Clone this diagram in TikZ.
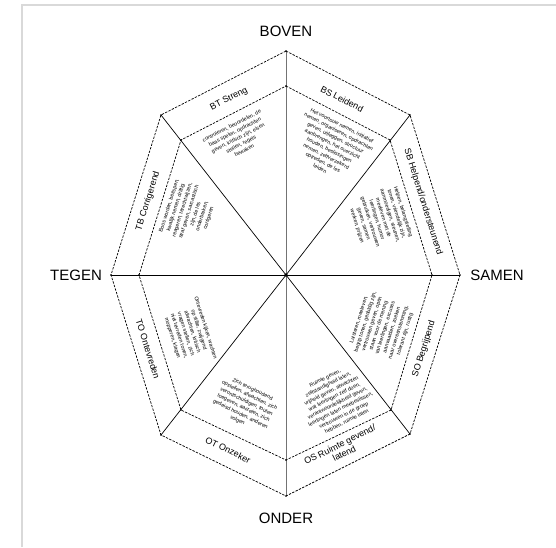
\documentclass[tikz,border=0pt]{standalone}
\usepackage{fontspec}
\setmainfont{Liberation Sans}
\begin{document}
\begin{tikzpicture}[x=1pt,y=-1pt,
  edge/.style={line width=0.7pt, dash pattern=on 2.4pt off 1.3pt},
  spoke/.style={line width=0.7pt},
  mainspoke/.style={line width=1pt, black!55},
  cardinal/.style={font=\fontsize{15}{17}\selectfont, inner sep=0pt},
  band/.style={font=\fontsize{9}{10}\selectfont, inner sep=0pt, align=center},
  body/.style={font=\fontsize{5.3}{6.9}\selectfont, inner sep=0pt, align=center},
  vdot/.style={fill=black, circle, inner sep=0pt, minimum size=1.8pt},
]
\useasboundingbox (0,0) rectangle (556,547);
\draw[black!15, line width=1.2pt] (22,547) -- (22,5) -- (556,5);

% centre and vertices
\coordinate (c) at (286,275);
\coordinate (oN) at (286,51);  \coordinate (oNE) at (410,115);
\coordinate (oE) at (460,275); \coordinate (oSE) at (410,434);
\coordinate (oS) at (286,496); \coordinate (oSW) at (161,435);
\coordinate (oW) at (111,275); \coordinate (oNW) at (161,115);
\coordinate (iN) at (286,86);  \coordinate (iNE) at (390,140);
\coordinate (iE) at (432,275); \coordinate (iSE) at (391,410);
\coordinate (iS) at (286,460); \coordinate (iSW) at (181,410);
\coordinate (iW) at (139,275); \coordinate (iNW) at (181,140);

% spokes
\draw[mainspoke] (oN) -- (oS);
\draw[spoke] (oW) -- (oE);
\draw[spoke] (c) -- (oNE);
\draw[spoke] (c) -- (oSE);
\draw[spoke] (c) -- (oSW);
\draw[spoke] (c) -- (oNW);

% octagons
\draw[edge] (oN) -- (oNE) -- (oE) -- (oSE) -- (oS) -- (oSW) -- (oW) -- (oNW) -- cycle;
\draw[edge] (iN) -- (iNE) -- (iE) -- (iSE) -- (iS) -- (iSW) -- (iW) -- (iNW) -- cycle;

\foreach \p in {oN,oNE,oE,oSE,oS,oSW,oW,oNW,iN,iNE,iE,iSE,iS,iSW,iW,iNW}
  \node[vdot] at (\p) {};
\fill (c) circle (1.8pt);

% cardinal labels
\node[cardinal] (boven) at (286,31) {BOVEN};
\node[cardinal] (onder) at (286,518) {ONDER};
\node[cardinal] (tegen) at (76,275) {TEGEN};
\node[cardinal] (samen) at (497,275) {SAMEN};

% band labels
\node[band, rotate=27.1] (bt) at (229,99) {BT Streng};
\node[band, rotate=-27.1] (bs) at (342,99) {BS Leidend};
\node[band, rotate=-72.6] (sb) at (423,202) {SB Helpend/ondersteunend};
\node[band, rotate=72.6] (so) at (424,349) {SO Begrijpend};
\node[band, rotate=26.6] (os) at (342,449) {OS Ruimte gevend/\\latend};
\node[band, rotate=-26.0] (ot) at (228,450) {OT Onzeker};
\node[band, rotate=-72.6] (to) at (148,349) {TO Ontevreden};
\node[band, rotate=72.6] (tb) at (148,201) {TB Corrigerend};

% sector texts
\node[body, rotate=27.1] (btt) at (238,138) {controleren, beoordelen, de\\baas spelen, opdrachten\\geven, kritisch zijn, eisen\\stellen, regels\\bewaken};
\node[body, rotate=-27.1] (bst) at (331,147) {Het voortouw nemen, initiatief\\nemen, organiseren, opdrachten\\geven, uitleggen, structuur\\aanbrengen, het overzicht\\houden, beslissingen\\nemen, zelfverzekerd\\optreden, de les\\leiden};
\node[body, rotate=-72.6] (sbt) at (380,219) {Helpen, belangstelling\\tonen, vriendelijk zijn,\\aanmoedigen, steunen,\\meeleven met de\\leerlingen, humor\\gebruiken, vertrouwen\\geven, samen\\werken, prijzen};
\node[body, rotate=72.6] (sot) at (382,327) {Luisteren, meeleven,\\begrip tonen, geduldig zijn,\\vertrouwen geven, open\\staan voor de mening\\van leerlingen, excuses\\aanvaarden, zoeken\\naar overeenstemming,\\tolerant zijn, rustig};
\node[body, rotate=26.6] (ost) at (336,400) {Ruimte geven,\\zelfstandigheid laten,\\vrijheid geven, afwachten\\wat leerlingen zelf doen,\\verantwoordelijkheid geven,\\leerlingen laten meebeslissen,\\vertrouwen in de groep\\hebben, ruimte laten};
\node[body, rotate=-26.0] (ott) at (245,405) {Zich terughoudend\\opstellen, afwachten, zich\\verontschuldigen, fouten\\toegeven, aarzelen, zich\\gedeisd houden, anderen\\volgen};
\node[body, rotate=-72.6] (tot) at (189,333) {Ontevreden kijken, wachten\\op stilte, zwijgend\\afwachten, kritisch\\vragen stellen, zich\\niet tevreden tonen,\\mopperen, klagen};
\node[body, rotate=72.6] (tbt) at (189,212) {Boos worden, berispen,\\kwalijk nemen, driftig\\reageren, terechtwijzen,\\straf geven, sarcastisch\\zijn, de les\\onderbreken,\\corrigeren};
\end{tikzpicture}
\end{document}
